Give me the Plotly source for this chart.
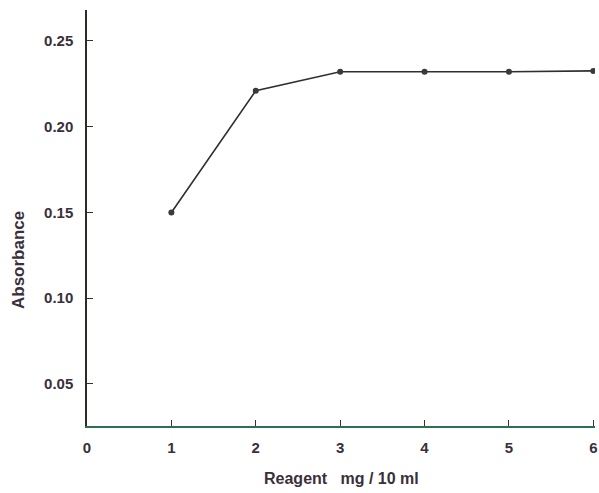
import plotly.graph_objects as go

reagent = [1, 2, 3, 4, 5, 6]
absorbance = [0.150, 0.221, 0.232, 0.232, 0.232, 0.2325]
x_ticks = [0, 1, 2, 3, 4, 5, 6]
x_tick_labels = ["0", "1", "2", "3", "4", "5", "6"]
y_ticks = [0.05, 0.10, 0.15, 0.20, 0.25]
y_tick_labels = ["0.05", "0.10", "0.15", "0.20", "0.25"]
x_title = "Reagent   mg / 10 ml"
y_title = "Absorbance"

ink = "#3a2f3a"
font = dict(family="Liberation Sans, Arial, sans-serif", size=15, color=ink, weight="bold")

fig = go.Figure(go.Scatter(
    x=reagent, y=absorbance, mode="lines+markers",
    line=dict(color="#2f2f2f", width=1.6),
    marker=dict(color="#3a3a3a", size=6),
    showlegend=False,
))

fig.update_layout(
    width=599, height=493,
    margin=dict(l=87, r=2, t=10, b=67),
    paper_bgcolor="white", plot_bgcolor="white",
    font=font,
    xaxis=dict(
        range=[0, 6.02], tickvals=x_ticks, ticktext=x_tick_labels,
        showgrid=False, zeroline=False, showline=True, linecolor="#2f6f4f", linewidth=1.5,
        ticks="inside", ticklen=6, tickcolor="#333", tickwidth=1.3,
        ticklabelstandoff=7, ticklabeloverflow="allow",
        tickfont=dict(size=15, color=ink, weight="bold"),
    ),
    yaxis=dict(
        range=[0.0255, 0.268], tickvals=y_ticks, ticktext=y_tick_labels,
        showgrid=False, zeroline=False, showline=True, linecolor="#2f2a22", linewidth=1.5,
        ticks="inside", ticklen=6, tickcolor="#333", tickwidth=1.3,
        ticklabelstandoff=9,
        tickfont=dict(size=15, color=ink, weight="bold"),
    ),
    annotations=[
        dict(text=x_title, xref="paper", yref="paper", x=0.5, y=-0.127,
             xanchor="center", yanchor="middle", showarrow=False,
             font=dict(size=16, color=ink, weight="bold")),
        dict(text=y_title, xref="paper", yref="paper", x=-0.135, y=0.40,
             xanchor="center", yanchor="middle", showarrow=False, textangle=-90,
             font=dict(size=17, color=ink, weight="bold")),
    ],
)

fig.write_html("out.html")
